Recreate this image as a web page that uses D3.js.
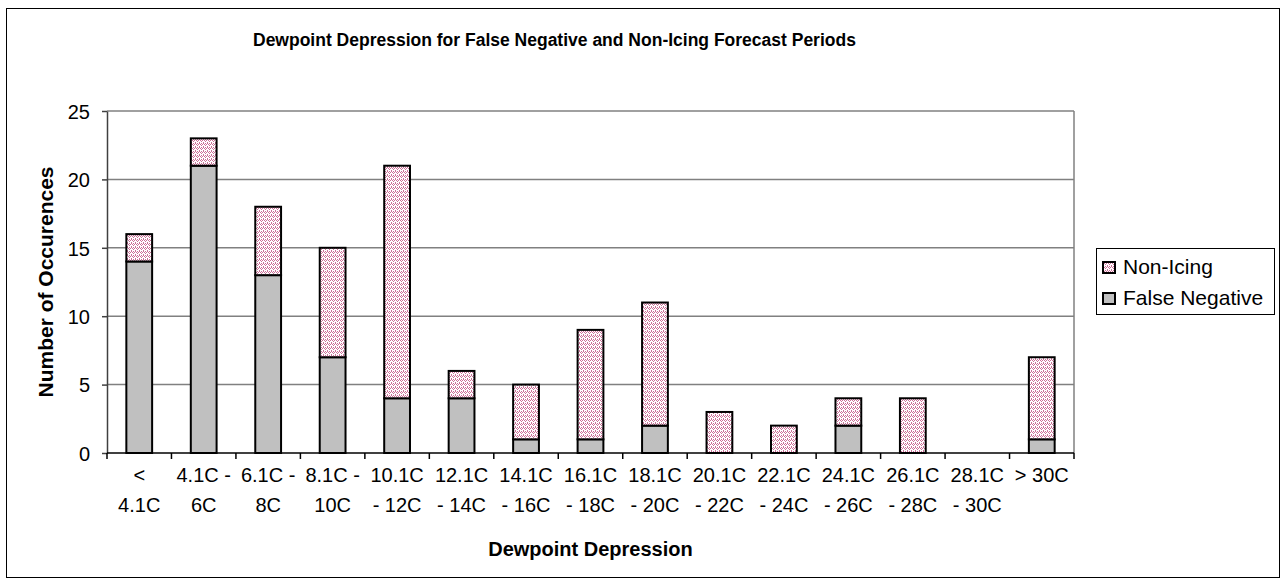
<!DOCTYPE html>
<html>
<head>
<meta charset="utf-8">
<script src="https://cdn.jsdelivr.net/npm/d3@7"></script>
<style>
  body { margin: 0; background: #fff; }
  text { font-family: "Liberation Sans", Arial, sans-serif; fill: #000; }
</style>
</head>
<body>
<div id="chart"></div>
<script>
// tick labels, one entry per category, split in display lines
const categoryLabels = [
  ['<', '4.1C'], ['4.1C -', '6C'], ['6.1C -', '8C'], ['8.1C -', '10C'],
  ['10.1C', '- 12C'], ['12.1C', '- 14C'], ['14.1C', '- 16C'], ['16.1C', '- 18C'],
  ['18.1C', '- 20C'], ['20.1C', '- 22C'], ['22.1C', '- 24C'], ['24.1C', '- 26C'],
  ['26.1C', '- 28C'], ['28.1C', '- 30C'], ['> 30C'],
];
const falseNegative = [14, 21, 13, 7, 4, 4, 1, 1, 2, 0, 0, 2, 0, 0, 1];
const nonIcing = [2, 2, 5, 8, 17, 2, 4, 8, 9, 3, 2, 2, 4, 0, 6];
const yTicks = [0, 5, 10, 15, 20, 25];

const width = 1281;
const height = 584;
const margin = { top: 111, right: 207, bottom: 131, left: 107 };
const innerW = width - margin.left - margin.right;
const innerH = height - margin.top - margin.bottom;
const font = '"Liberation Sans", Arial, sans-serif';

const svg = d3.select('#chart').append('svg')
  .attr('width', width)
  .attr('height', height);

// dotted pattern for the Non-Icing series
const defs = svg.append('defs');
const pat = defs.append('pattern')
  .attr('id', 'confetti')
  .attr('patternUnits', 'userSpaceOnUse')
  .attr('width', 4)
  .attr('height', 4);
pat.append('rect').attr('width', 4).attr('height', 4).attr('fill', '#fff');
[[0, 0], [1, 1], [2, 2], [3, 1], [2, 0], [0, 3]].forEach(([px, py]) => {
  pat.append('rect').attr('x', px).attr('y', py).attr('width', 1).attr('height', 1)
    .attr('fill', '#cc7098');
});

// outer frame
svg.append('rect')
  .attr('x', 6.5).attr('y', 8.5)
  .attr('width', 1273).attr('height', 569)
  .attr('fill', 'none').attr('stroke', '#000').attr('stroke-width', 1);

svg.append('text')
  .attr('x', 253).attr('y', 46)
  .attr('font-size', '17.5px')
  .attr('font-weight', 'bold')
  .text('Dewpoint Depression for False Negative and Non-Icing Forecast Periods');

const g = svg.append('g')
  .attr('transform', `translate(${margin.left},${margin.top})`);

const x = d3.scaleBand()
  .domain(d3.range(categoryLabels.length))
  .range([0, innerW])
  .paddingInner(0.6)
  .paddingOuter(0.3);

const y = d3.scaleLinear()
  .domain([0, 25])
  .range([innerH, 0]);

// gridlines
g.selectAll('.grid')
  .data(yTicks.filter((d) => d > 0))
  .join('line')
  .attr('class', 'grid')
  .attr('x1', 0).attr('x2', innerW)
  .attr('y1', (d) => y(d)).attr('y2', (d) => y(d))
  .attr('stroke', '#808080').attr('stroke-width', 1.5);

// right border of plot area
g.append('line')
  .attr('x1', innerW).attr('x2', innerW)
  .attr('y1', 0).attr('y2', innerH)
  .attr('stroke', '#808080').attr('stroke-width', 1.5);

// stacked bars
const stacked = d3.stack().keys(['fn', 'ni'])(
  falseNegative.map((v, i) => ({ i, fn: v, ni: nonIcing[i] })),
);
const fills = { fn: '#c0c0c0', ni: 'url(#confetti)' };

stacked.forEach((layer) => {
  g.selectAll(`.bar-${layer.key}`)
    .data(layer.filter((d) => d[1] - d[0] > 0))
    .join('rect')
    .attr('class', `bar-${layer.key}`)
    .attr('x', (d) => x(d.data.i))
    .attr('width', x.bandwidth())
    .attr('y', (d) => y(d[1]))
    .attr('height', (d) => y(d[0]) - y(d[1]))
    .attr('fill', fills[layer.key])
    .attr('stroke', '#000')
    .attr('stroke-width', 2);
});

// y axis
const yAxis = g.append('g')
  .call(d3.axisLeft(y).tickValues(yTicks).tickSize(5).tickSizeOuter(0).tickPadding(12));
yAxis.select('.domain').attr('stroke', '#404040').attr('stroke-width', 1.5);
yAxis.selectAll('.tick line').attr('stroke', '#404040').attr('stroke-width', 1.5);
yAxis.selectAll('.tick text')
  .attr('font-size', '20px')
  .attr('font-family', font)
  .attr('dy', '0.36em');

// x axis: line and ticks at band boundaries
const step = x.step();
const xAxisG = g.append('g').attr('transform', `translate(0,${innerH})`);
xAxisG.append('line')
  .attr('x1', 0).attr('x2', innerW)
  .attr('stroke', '#000').attr('stroke-width', 1.5);
xAxisG.selectAll('.xtick')
  .data(d3.range(categoryLabels.length + 1))
  .join('line')
  .attr('class', 'xtick')
  .attr('x1', (d) => d * step).attr('x2', (d) => d * step)
  .attr('y1', 0).attr('y2', 6)
  .attr('stroke', '#000').attr('stroke-width', 1.5);

xAxisG.selectAll('.xlabel')
  .data(categoryLabels)
  .join('text')
  .attr('class', 'xlabel')
  .attr('text-anchor', 'middle')
  .attr('font-size', '20px')
  .each(function (lines, i) {
    const t = d3.select(this);
    lines.forEach((line, k) => {
      t.append('tspan')
        .attr('x', x(i) + x.bandwidth() / 2)
        .attr('y', 29 + k * 30)
        .text(line);
    });
  });

// axis titles
svg.append('text')
  .attr('x', margin.left + innerW / 2)
  .attr('y', 556)
  .attr('text-anchor', 'middle')
  .attr('font-size', '20px')
  .attr('font-weight', 'bold')
  .text('Dewpoint Depression');

svg.append('text')
  .attr('transform', `translate(53,${margin.top + innerH / 2}) rotate(-90)`)
  .attr('text-anchor', 'middle')
  .attr('font-size', '21px')
  .attr('font-weight', 'bold')
  .text('Number of Occurences');

// legend
const legend = svg.append('g').attr('transform', 'translate(1096,248)');
legend.append('rect')
  .attr('x', 0.5).attr('y', 0.5)
  .attr('width', 178).attr('height', 66)
  .attr('fill', '#fff').attr('stroke', '#000').attr('stroke-width', 1);
const legendItems = [
  { name: 'Non-Icing', fill: fills.ni },
  { name: 'False Negative', fill: fills.fn },
];
legendItems.forEach((d, i) => {
  const row = legend.append('g').attr('transform', `translate(7,${14 + i * 31})`);
  row.append('rect')
    .attr('width', 12).attr('height', 11)
    .attr('fill', d.fill).attr('stroke', '#000').attr('stroke-width', 2);
  row.append('text')
    .attr('x', 20).attr('y', 12)
    .attr('font-size', '21px')
    .text(d.name);
});
</script>
</body>
</html>
